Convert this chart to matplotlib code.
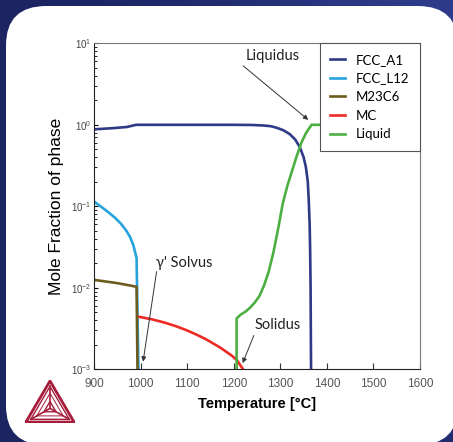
import numpy as np
import matplotlib
matplotlib.use("Agg")
import matplotlib.pyplot as plt
from matplotlib.patches import FancyBboxPatch
from matplotlib.colors import LinearSegmentedColormap

# 상 분율 데이터
t_fcc_a1 = [900, 940, 970, 990, 1000, 1100, 1200, 1240, 1265, 1280, 1292, 1306, 1320, 1332,
            1342, 1350, 1355, 1359, 1361, 1363, 1364, 1365, 1366]
fcc_a1 = [0.88, 0.91, 0.94, 1.0, 1.0, 1.0, 1.0, 0.995, 0.98, 0.96, 0.92, 0.86, 0.77, 0.66,
          0.53, 0.4, 0.3, 0.2, 0.12, 0.06, 0.03, 0.01, 0.001]

t_fcc_l12 = [900, 914, 929, 944, 957, 968, 977, 984, 991, 995]
fcc_l12 = [0.114, 0.0995, 0.0859, 0.0729, 0.0615, 0.0512, 0.042, 0.0335, 0.0232, 0.001]

t_m23c6 = [900, 950, 991, 993]
m23c6 = [0.0125, 0.0114, 0.0103, 0.001]

t_mc = [997, 1025, 1050, 1075, 1100, 1120, 1140, 1170, 1195, 1207, 1214, 1220]
mc = [0.0044, 0.00409, 0.00376, 0.00339, 0.00299, 0.00266, 0.00234, 0.00186, 0.00148,
      0.00129, 0.00112, 0.001]

t_liquid = [1206, 1206, 1215, 1225, 1235, 1245, 1255, 1265, 1275, 1285, 1295, 1305, 1315,
            1325, 1335, 1345, 1355, 1367, 1600]
liquid = [0.001, 0.0042, 0.0047, 0.0051, 0.0057, 0.0066, 0.0079, 0.0107, 0.0158, 0.027, 0.052,
          0.107, 0.178, 0.27, 0.41, 0.6, 0.79, 1.0, 1.0]

series = [
    ("FCC_A1", t_fcc_a1, fcc_a1, "#2e3a87"),
    ("FCC_L12", t_fcc_l12, fcc_l12, "#26a3dd"),
    ("M23C6", t_m23c6, m23c6, "#6e5c1e"),
    ("MC", t_mc, mc, "#ee2a24"),
    ("Liquid", t_liquid, liquid, "#4caf42"),
]
x_ticks = [900, 1000, 1100, 1200, 1300, 1400, 1500, 1600]

fig = plt.figure(figsize=(4.53, 4.42), dpi=100)

# 배경 (짙은 남색 그라데이션)
bg = fig.add_axes([0, 0, 1, 1], zorder=-10)
grad = np.array([[0.0, 0.3, 1.0], [0.0, 0.2, 0.6], [0.0, 0.0, 0.3]])
cmap_bg = LinearSegmentedColormap.from_list("bg", ["#1c2562", "#2e3d8c"])
bg.imshow(grad, cmap=cmap_bg, aspect="auto", interpolation="bicubic", extent=[0, 1, 0, 1])
bg.axis("off")
panel = FancyBboxPatch((6 / 453, -3 / 442), 452 / 453, 439 / 442,
                       boxstyle="round,pad=0,rounding_size=0.089",
                       transform=fig.transFigure, facecolor="white", edgecolor="none", zorder=-5)
fig.patches.append(panel)

ax = fig.add_axes([0.208, 0.1645, 0.719, 0.7375])
for name, t, v, c in series:
    ax.plot(t, v, color=c, lw=1.9, label=name)

ax.set_yscale("log")
ax.set_xlim(900, 1600)
ax.set_ylim(1e-3, 1e1)
ax.set_xticks(x_ticks)
ax.tick_params(axis="both", which="both", direction="in", top=False, right=False)
ax.tick_params(axis="x", labelsize=8.5, labelcolor="#555555", length=4, color="#333333", pad=6)
ax.tick_params(axis="y", which="major", labelsize=7, labelcolor="#444444", length=3, pad=2)
ax.tick_params(axis="y", which="minor", length=2)
for lab in ax.get_xticklabels() + ax.get_yticklabels():
    lab.set_family("Liberation Sans")
ax.spines["left"].set_color("#222222")
ax.spines["bottom"].set_color("#222222")
ax.spines["top"].set_color("#777777")
ax.spines["right"].set_color("#777777")

ax.set_xlabel("Temperature [°C]", fontsize=10.5, fontweight="bold", family="Liberation Sans", labelpad=5)
ax.set_ylabel("Mole Fraction of phase", fontsize=12.5, family="Liberation Sans", labelpad=5)

leg = ax.legend(loc="upper right", bbox_to_anchor=(0.693, 0.0, 0.307, 1.0), mode="expand",
                borderaxespad=0, fancybox=False, framealpha=1,
                edgecolor="#555555", prop={"family": "Lato", "size": 9.5},
                handlelength=1.1, handletextpad=0.8, labelspacing=0.5, borderpad=0.8)
leg.get_frame().set_linewidth(0.8)

# 주석
arrow = dict(arrowstyle="-|>", color="#333333", lw=0.7, mutation_scale=7, shrinkA=0, shrinkB=0)
ax.text(1283, 7.0, "Liquidus", ha="center", va="center", fontsize=10.5, family="Lato", color="#222222")
ax.annotate("", xy=(1360, 1.15), xytext=(1220, 5.3), arrowprops=arrow)
ax.text(1093, 0.020, "γ' Solvus", ha="center", va="center", fontsize=10.5, family="Lato", color="#222222")
ax.annotate("", xy=(1005, 0.00124), xytext=(1034, 0.0158), arrowprops=arrow)
ax.text(1294, 0.0035, "Solidus", ha="center", va="center", fontsize=10.5, family="Lato", color="#222222")
ax.annotate("", xy=(1219, 0.00119), xytext=(1243, 0.0026), arrowprops=arrow)

# 로고 (삼각형)
logo = fig.add_axes([25 / 453, 1 - 423 / 442, 50 / 453, 43 / 442])
logo.set_xlim(-0.02, 1.02)
logo.set_ylim(-0.02, 0.886)
logo.axis("off")
red = "#a51d3a"
h = np.sqrt(3) / 2
outer = np.array([[0, 0], [1, 0], [0.5, h], [0, 0]])
g = np.array([0.5, h / 3])
logo.plot(outer[:, 0], outer[:, 1], color=red, lw=2)
inner = g + (outer - g) * 0.8
logo.plot(inner[:, 0], inner[:, 1], color=red, lw=1)
core = g + (outer - g) * 0.25
logo.plot(core[:, 0], core[:, 1], color=red, lw=1)
for p in inner[:3]:
    logo.plot([g[0], p[0]], [g[1], p[1]], color=red, lw=1.2)
mid = g + (outer - g) * 0.55
logo.plot(mid[:, 0], mid[:, 1], color=red, lw=0.7)

fig.savefig("out.png", dpi=100)
